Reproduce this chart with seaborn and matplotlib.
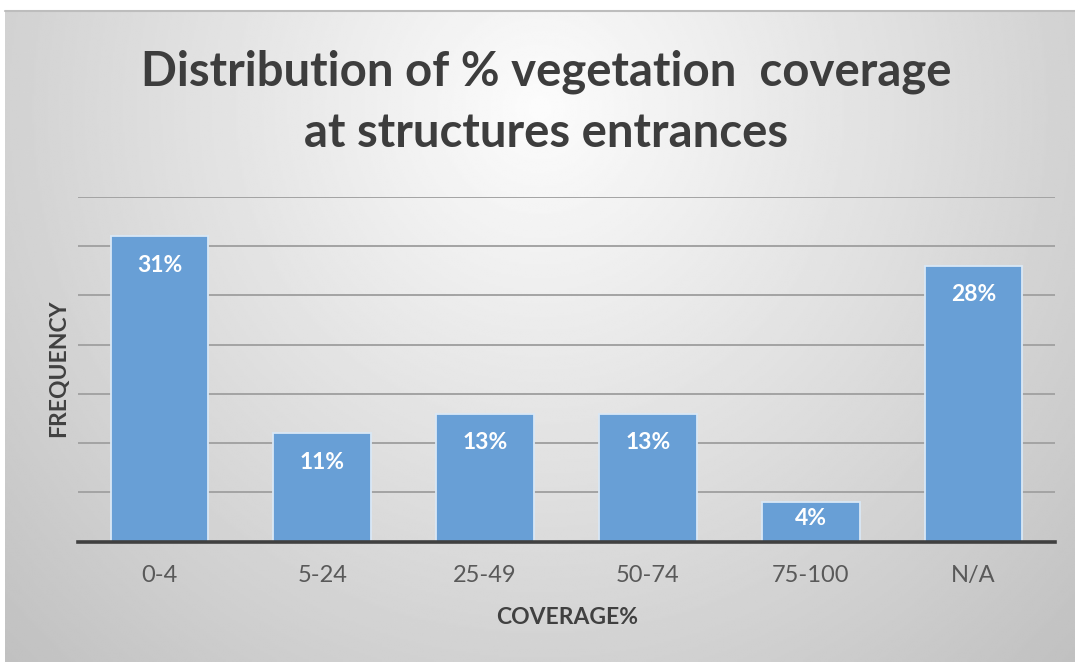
import numpy as np
import pandas as pd
import matplotlib
matplotlib.use("Agg")
import matplotlib.pyplot as plt
import seaborn as sns

# Data
categories = ["0-4", "5-24", "25-49", "50-74", "75-100", "N/A"]
share_pct = [31, 11, 13, 13, 4, 28]
title_lines = ["Distribution of % vegetation  coverage", "at structures entrances"]
x_title = "COVERAGE%"
y_title = "FREQUENCY"
grid_steps = [5, 10, 15, 20, 25, 30, 35]

sns.set_style("white")
plt.rcParams["font.family"] = ["Lato", "DejaVu Sans"]

W, H = 1075, 662
fig = plt.figure(figsize=(W / 100, H / 100), dpi=100)
fig.patch.set_facecolor("white")

# Chart-area background: radial fill, light near the title, grey at the edges
bg = fig.add_axes([5 / W, 0, 1 - 5 / W, (H - 10) / H])
ny, nx = 330, 540
yy, xx = np.mgrid[0:1:ny * 1j, 0:1:nx * 1j]
dist = np.sqrt(((xx - 0.5) / 0.5) ** 2 + ((yy - 0.15) / 0.85) ** 2)
shade = np.clip(252 - 42 * dist, 0, 255) / 255
bg.imshow(shade, cmap="gray", vmin=0, vmax=1, extent=[0, 1, 1, 0],
          aspect="auto", interpolation="bilinear")
bg.set_xlim(0, 1)
bg.set_ylim(1, 0)
bg.set_axis_off()
bg.plot([0, 1], [0.001, 0.001], color="#BDBDBD", lw=1.5, clip_on=False)

# Plot area
ax = fig.add_axes([78 / W, (H - 541.7) / H, (1055 - 78) / W, (541.7 - 196.7) / H])
ax.patch.set_alpha(0)

df = pd.DataFrame({"coverage": categories, "share": share_pct})
sns.barplot(data=df, x="coverage", y="share", color="#689FD6", saturation=1,
            width=0.6, edgecolor="#D9E8F6", linewidth=1.3, ax=ax, zorder=3)

ax.set_xlim(-0.5, 5.5)
ax.set_ylim(0, 35)
ax.set_yticks(grid_steps)
ax.set_yticklabels([])
ax.tick_params(axis="y", length=0)
ax.yaxis.grid(True, color="#A3A3A3", lw=1.4)
ax.xaxis.grid(False)
ax.set_axisbelow(True)
for side in ["left", "right", "top"]:
    ax.spines[side].set_visible(False)
ax.spines["bottom"].set_color("#404040")
ax.spines["bottom"].set_linewidth(2.6)
ax.spines["bottom"].set_zorder(4)
ax.tick_params(axis="x", length=0, pad=17, labelsize=17, labelcolor="#595959")
ax.set_xlabel("")
ax.set_ylabel("")

# Value labels inside the top of each bar (pulled up for very short bars)
fig.canvas.draw()
for patch, v in zip(ax.patches, share_pct):
    cx = patch.get_x() + patch.get_width() / 2
    y0 = ax.transData.transform((0, 0))[1]
    y1 = ax.transData.transform((0, v))[1]
    bar_pt = (y1 - y0) * 72 / fig.dpi
    offset = min(21, 0.42 * bar_pt)
    ax.annotate(f"{v:.0f}%", xy=(cx, v), xytext=(0, -offset), textcoords="offset points",
                ha="center", va="center", color="white", fontweight="bold",
                fontsize=16.5, zorder=5)

# Titles
fig.text(546 / W, 1 - 85 / H, title_lines[0], ha="center", va="baseline",
         fontsize=34, fontweight="bold", color="#3D3D3D")
fig.text(546 / W, 1 - 147 / H, title_lines[1], ha="center", va="baseline",
         fontsize=34, fontweight="bold", color="#3D3D3D")
fig.text(567 / W, 1 - 617 / H, x_title, ha="center", va="center",
         fontsize=16.5, fontweight="bold", color="#404040")
fig.text(59 / W, 1 - 368 / H, y_title, ha="center", va="center", rotation=90,
         fontsize=16.5, fontweight="bold", color="#404040")

fig.savefig("out.png", dpi=100)
